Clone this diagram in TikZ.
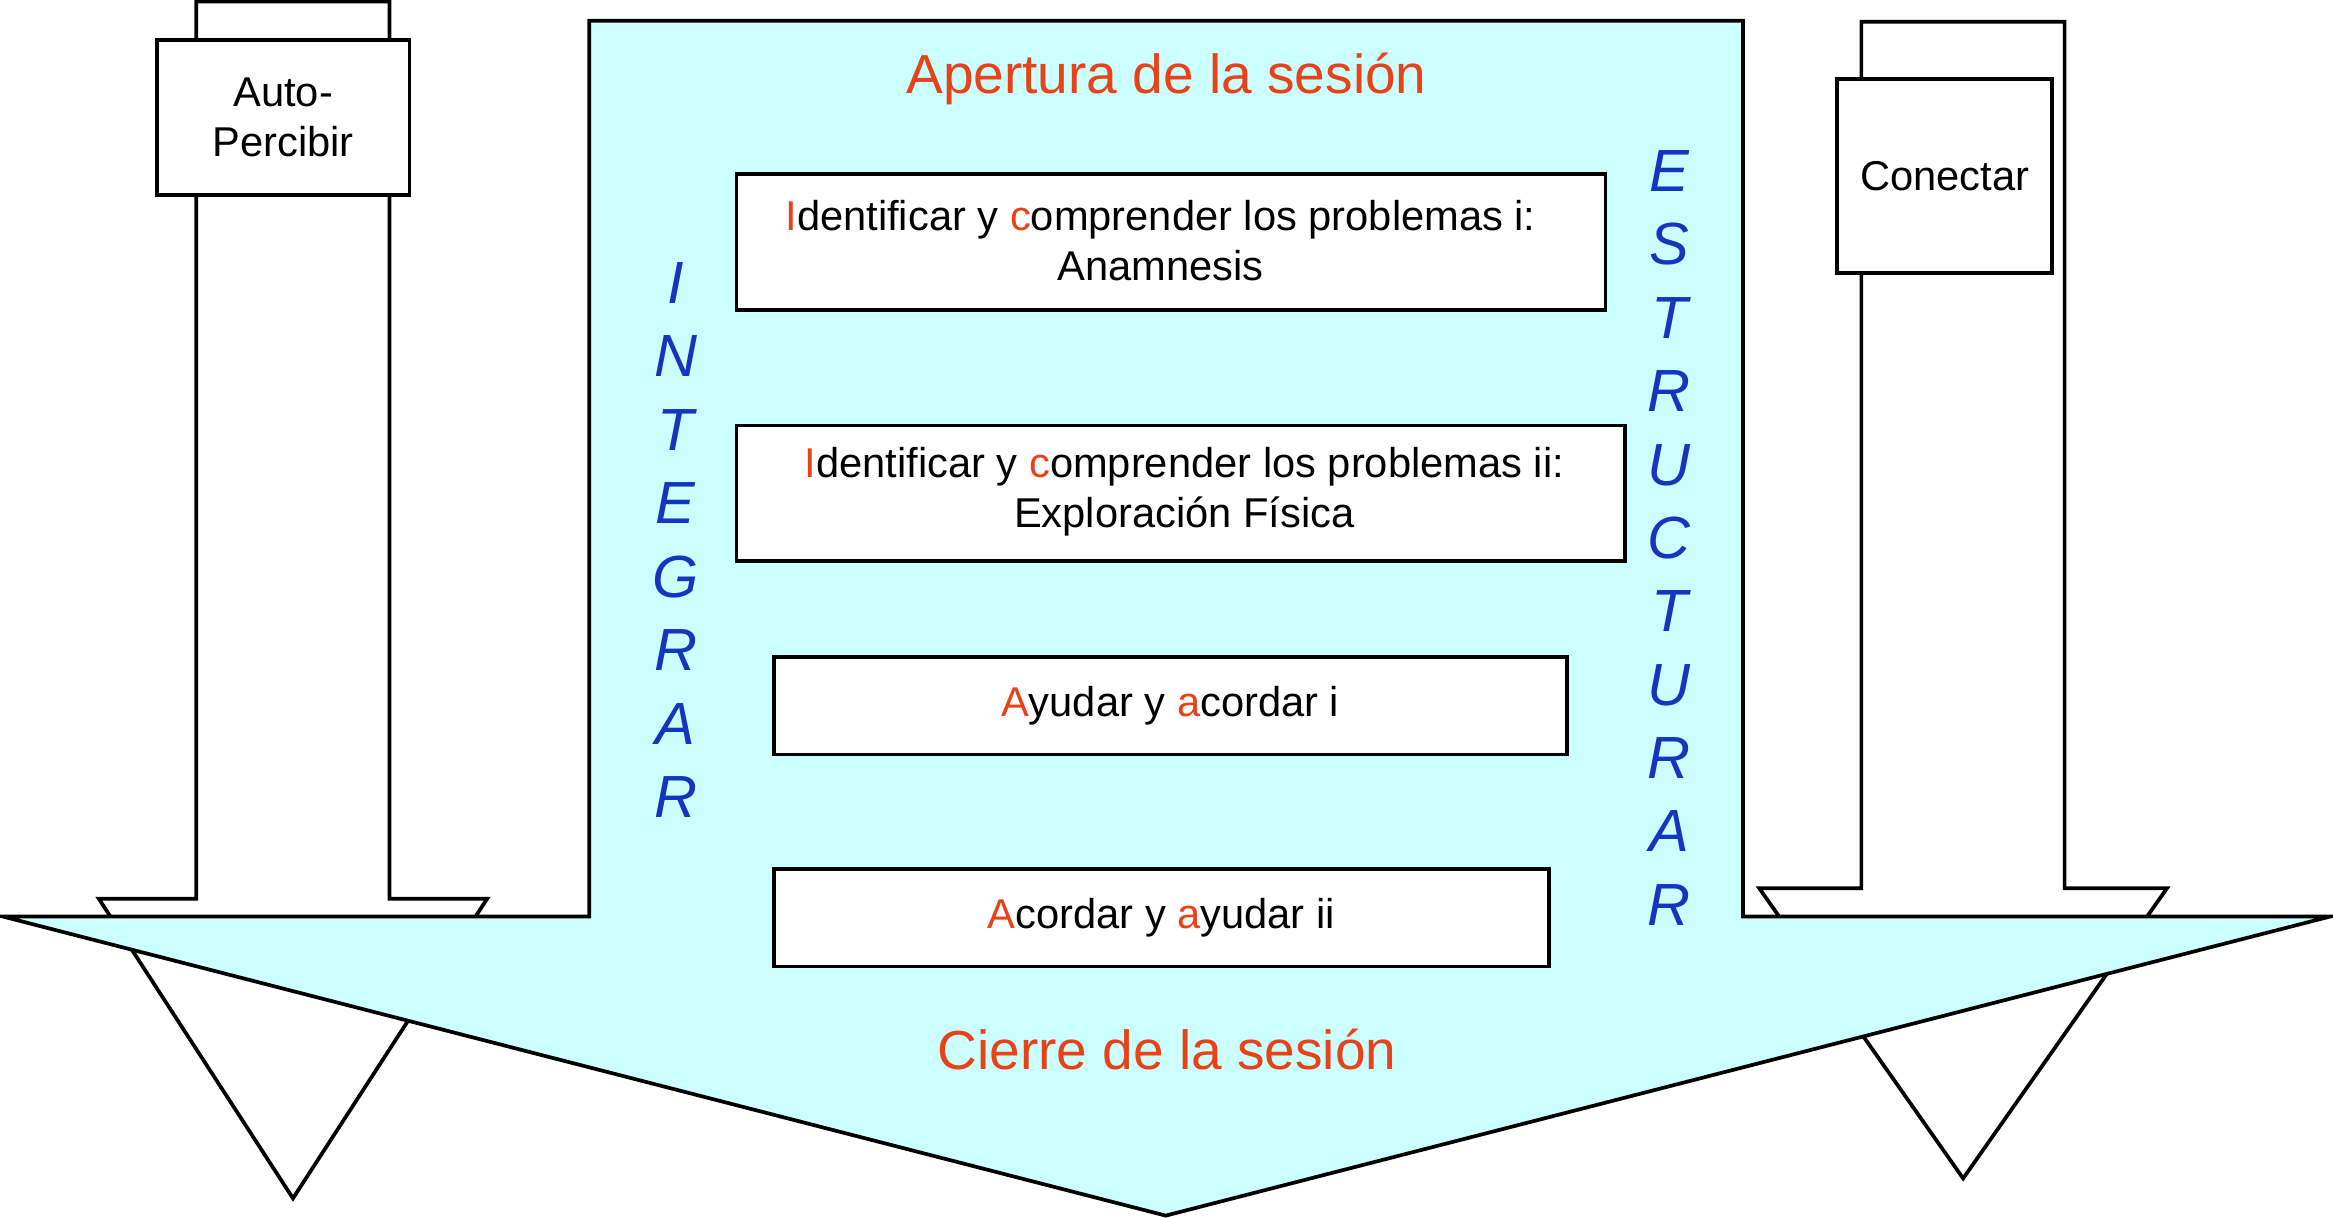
\documentclass[tikz,border=0pt]{standalone}
\usepackage{fontspec}
\setmainfont{Liberation Sans}
\definecolor{cyanfill}{RGB}{204,255,255}
\definecolor{titlered}{RGB}{232,66,24}
\definecolor{letterblue}{RGB}{20,54,190}
\newcommand\redini[1]{\textcolor{titlered}{#1}}
\begin{document}
\begin{tikzpicture}[x=0.5pt,y=-0.5pt,
  outline/.style={draw=black,line width=1.25pt},
  boxtext/.style={inner sep=0pt,align=center,font=\fontsize{14}{16.8}\selectfont},
  boxnode/.style={outline,fill=white,boxtext},
  titletext/.style={text=titlered,font=\fontsize{18.5}{22}\selectfont,anchor=base,inner sep=0pt},
  vletter/.style={text=letterblue,font=\fontsize{20}{24}\selectfont\itshape,anchor=base,inner sep=0pt}]
\useasboundingbox (0,0) rectangle (1568,818.6);
% left small arrow
\draw[outline,fill=white] (131.9,1.1) -- (261.8,1.1) -- (261.8,604) -- (327.4,604) -- (196.9,805.4) -- (66.4,604) -- (131.9,604) -- cycle;
% right small arrow
\draw[outline,fill=white] (1251,14.6) -- (1387.6,14.6) -- (1387.6,597) -- (1456.4,597) -- (1319.4,792) -- (1182.4,597) -- (1251,597) -- cycle;
% big central arrow
\draw[outline,fill=cyanfill] (396,14) -- (1171.5,14) -- (1171.5,616) -- (1566,616) -- (783.5,817) -- (2,616) -- (396,616) -- cycle;
% side boxes
\node[boxnode,minimum width=84.85pt,minimum height=52.05pt] (auto) at (190.35,78.95) {Auto-\\Percibir};
\node[boxnode,minimum width=72.15pt,minimum height=65.4pt] (conectar) at (1306.95,118.3) {Conectar};
% titles
\node[titletext] (apertura) at (784,62.7) {Apertura de la sesión};
\node[titletext] (cierre) at (784.3,719) {Cierre de la sesión};
% step boxes
\node[boxnode,minimum width=292pt,minimum height=45.7pt] (b1) at (787,162.7) {};
\node[boxtext] (b1text) at (780,161.5)
  {\redini{I}dentificar y \redini{c}omprender los problemas i:\\Anamnesis};
\node[boxnode,minimum width=298.5pt,minimum height=45.5pt] (b2) at (793.5,331.5) {};
\node[boxtext] (b2text) at (796,330.5)
  {\redini{I}dentificar y \redini{c}omprender los problemas ii:\\Exploración Física};
\node[boxnode,minimum width=266.5pt,minimum height=32.7pt] (b3) at (786.5,474.3)
  {\redini{A}yudar y \redini{a}cordar i};
\node[boxnode,minimum width=260.5pt,minimum height=32.8pt] (b4) at (780.5,616.8)
  {\redini{A}cordar y \redini{a}yudar ii};
% vertical words
\foreach \l [count=\k from 0] in {I,N,T,E,G,R,A,R}
  \node[vletter] (int\k) at (454,203.7+49.4*\k) {\l};
\foreach \l [count=\k from 0] in {E,S,T,R,U,C,T,U,R,A,R}
  \node[vletter] (est\k) at (1122,128.8+49.3*\k) {\l};
\end{tikzpicture}
\end{document}
